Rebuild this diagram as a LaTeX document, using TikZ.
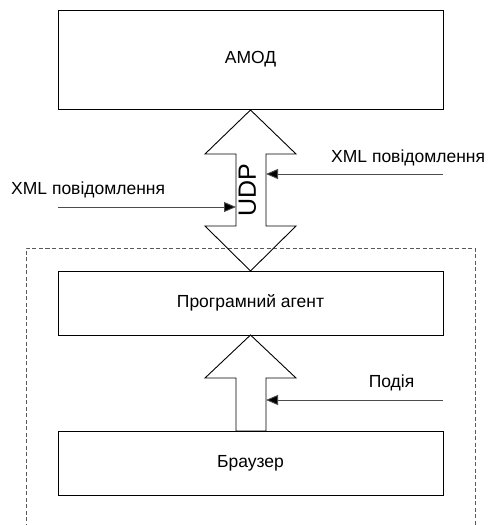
\documentclass[tikz,border=0pt]{standalone}
\usepackage{fontspec}
\setmainfont{Liberation Sans}
\usetikzlibrary{arrows.meta}
\begin{document}
\begin{tikzpicture}[x=1pt,y=-1pt,
  box/.style={draw, line width=0.9pt, minimum width=385pt, inner sep=0pt, outer sep=0pt, font=\fontsize{17.5}{19}\selectfont},
  conn/.style={draw=black!70, line width=0.9pt, -{Triangle[length=12pt,width=10pt,fill=black]}},
  lbl/.style={inner sep=0pt, font=\fontsize{17.5}{19}\selectfont},
  frame/.style={draw=black!65, dashed, dash pattern=on 4pt off 2.5pt, line width=0.8pt}]
\useasboundingbox (0,0) rectangle (491,525);
\begin{scope}
\clip (0,0) rectangle (491,525);
\draw[frame] (26,560) -- (26,248) -- (475,248) -- (475,560);
\end{scope}
% boxes
\node[box, minimum height=99pt] (amod) at (250.5,59.5) {АМОД};
\node[box, minimum height=64pt] (agent) at (250.5,303) {Програмний агент};
\node[box, minimum height=64pt] (browser) at (250.5,463) {Браузер};
% double arrow
\draw[line width=0.9pt, line join=miter] (250.5,110) -- (296,154) -- (266,154) -- (266,226) -- (296,226) -- (250.5,271) -- (205,226) -- (236,226) -- (236,154) -- (205,154) -- cycle;
\node[rotate=90, inner sep=0pt, font=\fontsize{25}{27}\selectfont] (udp) at (247.5,190.5) {UDP};
% single arrow
\draw[line width=0.9pt, line join=miter] (250.5,335) -- (296,378) -- (266,378) -- (266,431) -- (236,431) -- (236,378) -- (205,378) -- cycle;
% connectors
\coordinate (r1s) at (443,174);
\coordinate (r1e) at (266,174);
\coordinate (l1s) at (58,207);
\coordinate (l1e) at (236,207);
\coordinate (r2s) at (443,400);
\coordinate (r2e) at (266,400);
\draw[conn] (r1s) -- (r1e);
\draw[conn] (l1s) -- (l1e);
\draw[conn] (r2s) -- (r2e);
\node[lbl, anchor=west] (xml1) at (331,158) {XML повідомлення};
\node[lbl, anchor=west] (xml2) at (11,190) {XML повідомлення};
\node[lbl] (event) at (391.5,383) {Подія};
\end{tikzpicture}
\end{document}
